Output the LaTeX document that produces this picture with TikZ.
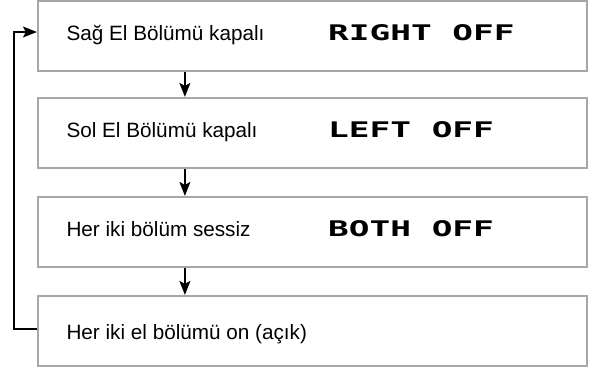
\documentclass[tikz,border=0pt]{standalone}
\usepackage{fontspec}
\setmainfont{Liberation Sans}
\newfontfamily\lcdfont{DejaVu Sans Mono}
\usetikzlibrary{arrows.meta}
\definecolor{frame}{HTML}{A5A7AA}
\newcommand{\lcd}[1]{\scalebox{1.6}[1]{\lcdfont\bfseries\fontsize{21.5}{21.5}\selectfont #1}}

\begin{document}
\begin{tikzpicture}[x=1pt,y=-1pt,font=\fontsize{20.7}{24}\selectfont,
  modebox/.style={draw=frame,line width=2.2pt,minimum width=549pt,minimum height=70pt,inner sep=0pt},
  flow/.style={-{Stealth[length=14pt,width=11pt,inset=3pt]},line width=1.6pt}]
\useasboundingbox (0,0) rectangle (604,368);
% the four modes, one below the other
\foreach \name/\cy in {sag/36,sol/133,both/232,on/331} {\node[modebox] (\name) at (312.5,\cy) {};}
\node[anchor=base west] (sagtxt) at (63,40) {Sağ El Bölümü kapalı};
\node[anchor=base west] (soltxt) at (63,137) {Sol El Bölümü kapalı};
\node[anchor=base west] (bothtxt) at (63,236) {Her iki bölüm sessiz};
\node[anchor=base west] (ontxt) at (63,339) {Her iki el bölümü on (açık)};
\node[anchor=base west,inner sep=0pt] (saglcd) at (328,40.5) {\lcd{RIGHT OFF}};
\node[anchor=base west,inner sep=0pt] (sollcd) at (328,137.5) {\lcd{LEFT OFF}};
\node[anchor=base west,inner sep=0pt] (bothlcd) at (328,236.5) {\lcd{BOTH OFF}};
% steps down
\draw[flow] ([xshift=148pt]sag.south west) -- ([xshift=148pt]sol.north west);
\draw[flow] ([xshift=148pt]sol.south west) -- ([xshift=148pt]both.north west);
\draw[flow] ([xshift=148pt]both.south west) -- ([xshift=148pt]on.north west);
% back to the top
\draw[flow] ([yshift=2pt]on.west) -- ++(-23,0) |- ([yshift=4pt]sag.west);
\end{tikzpicture}
\end{document}
